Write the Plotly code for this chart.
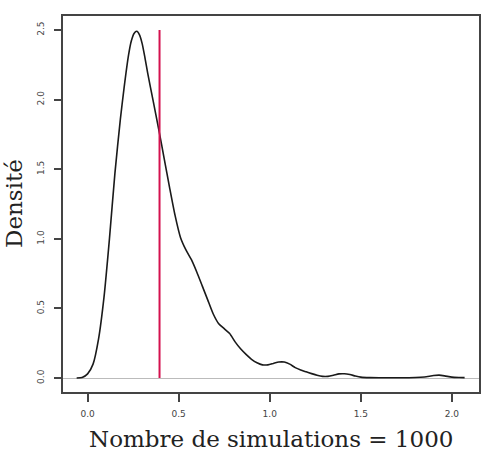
import plotly.graph_objects as go

# Density estimate
x_vals = [-0.06, -0.03, 0.0, 0.03, 0.06, 0.09, 0.12, 0.15, 0.18, 0.20, 0.225, 0.24,
          0.255, 0.27, 0.285, 0.30, 0.315, 0.33, 0.36, 0.39, 0.42, 0.45, 0.48, 0.51,
          0.54, 0.57, 0.60, 0.63, 0.66, 0.69, 0.72, 0.75, 0.78, 0.81, 0.84, 0.87,
          0.90, 0.93, 0.96, 0.99, 1.02, 1.05, 1.08, 1.11, 1.14, 1.17, 1.20, 1.23,
          1.26, 1.29, 1.32, 1.35, 1.38, 1.41, 1.44, 1.47, 1.50, 1.55, 1.60, 1.70,
          1.80, 1.85, 1.90, 1.93, 1.96, 2.00, 2.04, 2.07]
density = [0.0, 0.004, 0.03, 0.10, 0.28, 0.58, 1.00, 1.47, 1.86, 2.08, 2.32, 2.42,
           2.475, 2.49, 2.465, 2.40, 2.30, 2.19, 1.99, 1.79, 1.58, 1.37, 1.17, 1.01,
           0.92, 0.85, 0.76, 0.66, 0.56, 0.46, 0.39, 0.355, 0.32, 0.26, 0.21, 0.17,
           0.135, 0.11, 0.095, 0.095, 0.105, 0.115, 0.115, 0.10, 0.075, 0.058, 0.045, 0.032,
           0.02, 0.012, 0.012, 0.02, 0.03, 0.031, 0.025, 0.015, 0.007, 0.003, 0.002, 0.002,
           0.004, 0.008, 0.018, 0.021, 0.016, 0.007, 0.004, 0.003]

mean_value = 0.395
mean_line_top = 2.5

x_ticks = [0.0, 0.5, 1.0, 1.5, 2.0]
x_tick_labels = ["0.0", "0.5", "1.0", "1.5", "2.0"]
y_ticks = [0.0, 0.5, 1.0, 1.5, 2.0, 2.5]
y_tick_labels = ["0.0", "0.5", "1.0", "1.5", "2.0", "2.5"]

x_title = "Nombre de simulations = 1000"
y_title = "Densité"

fig = go.Figure()
fig.add_trace(go.Scatter(x=x_vals, y=density, mode="lines",
                         line=dict(color="#1a1a1a", width=1.6, shape="spline", smoothing=0.6),
                         hoverinfo="skip", showlegend=False))
fig.add_trace(go.Scatter(x=[mean_value, mean_value], y=[0, mean_line_top], mode="lines",
                         line=dict(color="#d4114e", width=2),
                         hoverinfo="skip", showlegend=False))

tickfont = dict(family="DejaVu Sans, Arial, sans-serif", size=9, color="#444")
titlefont = dict(family="DejaVu Serif, serif", size=23, color="#222")
fig.update_layout(
    width=491, height=454,
    margin=dict(l=63, r=10, t=16, b=62),
    paper_bgcolor="white", plot_bgcolor="white",
    xaxis=dict(range=[-0.135, 2.149], tickvals=x_ticks, ticktext=x_tick_labels,
               ticks="outside", ticklen=8, tickwidth=1.5, tickcolor="#444",
               showline=True, linecolor="#444", linewidth=2, mirror=True,
               showgrid=False, zeroline=False, tickfont=tickfont, ticklabelstandoff=4),
    yaxis=dict(range=[-0.1, 2.6], tickvals=y_ticks, ticktext=y_tick_labels,
               ticks="outside", ticklen=7, tickwidth=1.5, tickcolor="#444",
               showline=True, linecolor="#444", linewidth=2, mirror=True,
               showgrid=False, zeroline=True, zerolinecolor="#bbbbbb", zerolinewidth=1,
               tickangle=-90, tickfont=tickfont, ticklabelstandoff=6),
    annotations=[
        dict(text=x_title, xref="paper", yref="paper", x=0.5, y=0, yshift=-47,
             showarrow=False, xanchor="center", yanchor="middle", font=titlefont),
        dict(text=y_title, xref="paper", yref="paper", x=0, y=0.5, xshift=-49,
             showarrow=False, xanchor="center", yanchor="middle", textangle=-90,
             font=titlefont),
    ],
)

fig.write_html("out.html")
